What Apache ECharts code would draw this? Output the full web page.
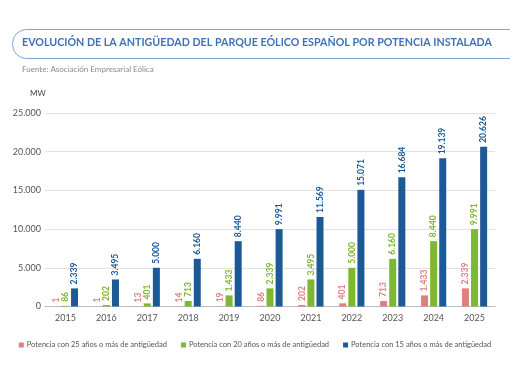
<!DOCTYPE html>
<html><head><meta charset="utf-8">
<script src="https://cdn.jsdelivr.net/npm/echarts@6/dist/echarts.min.js"></script>
<style>html,body{margin:0;padding:0;background:#fff}#c{width:510px;height:382px}</style>
</head><body><div id="c"></div>
<script>
var years = ['2015','2016','2017','2018','2019','2020','2021','2022','2023','2024','2025'];
var age25 = [1,1,13,14,19,86,202,401,713,1433,2339];
var age20 = [86,202,401,713,1433,2339,3495,5000,6160,8440,9991];
var age15 = [2339,3495,5000,6160,8440,9991,11569,15071,16684,19139,20626];
var seriesNames = ['Potencia con 25 años o más de antigüedad','Potencia con 20 años o más de antigüedad','Potencia con 15 años o más de antigüedad'];
var titleText = 'EVOLUCIÓN DE LA ANTIGÜEDAD DEL PARQUE EÓLICO ESPAÑOL POR POTENCIA INSTALADA';
var sourceText = 'Fuente: Asociación Empresarial Eólica';
var unitText = 'MW';

function fmt(v){ return String(v).replace(/\B(?=(\d{3})+(?!\d))/g, '.'); }
var colors = ['#e07f7f','#7cb832','#1b5a96'];
var FONT = 'Lato, "Open Sans", sans-serif';

function mk(name, data, i){
  return {
    name: name, type: 'bar', data: data, barWidth: 7, barGap: '30%',
    itemStyle: {color: colors[i]},
    label: {show: true, position: 'top', rotate: 90, align: 'left', verticalAlign: 'middle',
      distance: 4, color: colors[i], fontSize: 8.5, fontWeight: 'bold', fontFamily: FONT,
      formatter: function(p){ return fmt(p.value); }}
  };
}

var chart = echarts.init(document.getElementById('c'), null, {renderer:'canvas'});
chart.setOption({
  animation: false,
  textStyle: {fontFamily: FONT},
  graphic: [
    {type:'rect', shape:{x:12.5, y:29.5, width:530, height:29, r:[14,0,0,14]}, style:{fill:'#fff', stroke:'#7ea2d4', lineWidth:1}},
    {type:'text', left:22, top:37, style:{text:titleText, fill:'#3f72b8', font:'bold 10.7px '+FONT}},
    {type:'text', left:22, top:65, style:{text:sourceText, fill:'#8a8a8a', font:'8px '+FONT}},
    {type:'text', left:30, top:89, style:{text:unitText, fill:'#444', font:'8px '+FONT}}
  ],
  legend: {
    top: 341, left: 'center', width: 500, icon: 'rect', itemWidth: 5, itemHeight: 5, itemGap: 14,
    padding: 0,
    textStyle: {fontSize: 7.5, color: '#555', fontFamily: FONT, padding: [0,0,0,-2]}, data: seriesNames
  },
  grid: {left: 45, right: 15, top: 113, bottom: 75.5},
  xAxis: {
    type: 'category', data: years,
    axisLine: {lineStyle: {color: '#bbb'}}, axisTick: {show: false},
    axisLabel: {color: '#555', fontSize: 9, margin: 7}
  },
  yAxis: {
    type: 'value', min: 0, max: 25000, interval: 5000,
    axisLine: {show: false}, axisTick: {show: false},
    splitLine: {lineStyle: {color: '#e2e2e2'}},
    axisLabel: {color: '#555', fontSize: 9, margin: 4, formatter: function(v){ return fmt(v); }}
  },
  series: [mk(seriesNames[0], age25, 0), mk(seriesNames[1], age20, 1), mk(seriesNames[2], age15, 2)]
});
</script></body></html>
